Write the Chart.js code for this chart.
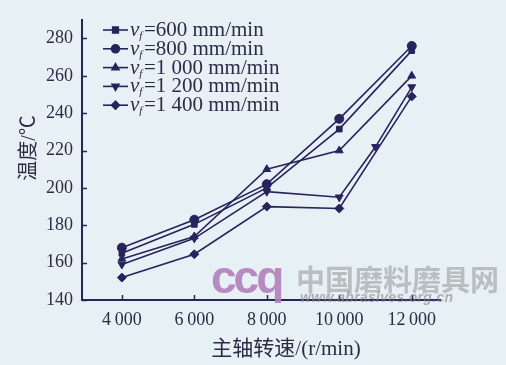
<!DOCTYPE html>
<html>
<head>
<meta charset="utf-8">
<script src="https://cdn.jsdelivr.net/npm/chart.js@4/dist/chart.umd.min.js"></script>
<style>
body { margin: 0; background: #e7f0f5; }
#wrap { position: relative; width: 506px; height: 365px; overflow: hidden; }
#chart { position: absolute; left: 0; top: 0; }
.logo { position: absolute; left: 211px; top: 250px; font: bold 46px "Liberation Sans", sans-serif; color: rgba(176, 128, 186, 0.9); letter-spacing: -3px; }
.wm1 { position: absolute; left: 296px; top: 257px; font: bold 29px "Noto Sans CJK SC", sans-serif; color: rgba(140, 140, 140, 0.5); letter-spacing: 0; }
.wm2 { position: absolute; left: 300px; top: 289px; font: italic bold 14px "Liberation Sans", sans-serif; color: rgba(130, 130, 130, 0.6); letter-spacing: 0.3px; }
</style>
</head>
<body>
<div id="wrap">
  <canvas id="chart" width="506" height="365"></canvas>
  <div class="logo">ccq</div>
  <div class="wm1">中国磨料磨具网</div>
  <div class="wm2">www.abrasives.org.cn</div>
</div>
<script>
// Données
const speeds = [4000, 6000, 8000, 10000, 12000];
const speeds1200 = [4000, 6000, 8000, 10000, 11000, 12000];
const temp600 = [165, 180.5, 200, 231.5, 273.5];
const temp800 = [168, 183, 202, 237, 276];
const temp1000 = [162, 174, 210, 220, 260];
const temp1200 = [159, 173, 198, 195, 222, 254];
const temp1400 = [152, 164.5, 190, 189, 249];
const feedLabels = ['600 mm/min', '800 mm/min', '1 000 mm/min', '1 200 mm/min', '1 400 mm/min'];
const xTicks = [4000, 6000, 8000, 10000, 12000];
const xTickLabels = ['4\u2009000', '6\u2009000', '8\u2009000', '10\u2009000', '12\u2009000'];
const yTicks = [140, 160, 180, 200, 220, 240, 260, 280];
const xTitle = '主轴转速/(r/min)';
const yTitle = '温度/℃';

const ink = '#25255c';
const textInk = '#2b2b45';
const serif = '"Liberation Serif", "Noto Sans CJK SC", serif';

const pts = (xs, ys) => xs.map((x, i) => ({ x, y: ys[i] }));

function series(label, xs, ys, style, rotation) {
    return {
        label,
        data: pts(xs, ys),
        borderColor: ink,
        backgroundColor: ink,
        borderWidth: 1.6,
        pointStyle: style,
        rotation: rotation || 0,
        pointRadius: style === 'rect' ? 4 : 4.5,
        pointBorderWidth: 1,
        tension: 0
    };
}

// Graduations vers l'intérieur + titres + légende
const decor = {
    id: 'decor',
    afterDraw(chart) {
        const { ctx, chartArea: a, scales: { x, y } } = chart;
        ctx.save();
        ctx.strokeStyle = ink;
        ctx.lineWidth = 1.5;
        ctx.beginPath();
        yTicks.forEach(v => {
            const py = Math.round(y.getPixelForValue(v)) + 0.5;
            ctx.moveTo(a.left, py); ctx.lineTo(a.left + 5, py);
        });
        xTicks.forEach(v => {
            const px = Math.round(x.getPixelForValue(v)) + 0.5;
            ctx.moveTo(px, a.bottom); ctx.lineTo(px, a.bottom - 5);
        });
        ctx.stroke();

        // titres
        ctx.fillStyle = textInk;
        ctx.font = '21px ' + serif;
        ctx.textAlign = 'center';
        ctx.textBaseline = 'middle';
        ctx.fillText(xTitle, 286, 349);
        ctx.save();
        ctx.translate(30, 148);
        ctx.rotate(-Math.PI / 2);
        ctx.font = '20px ' + serif;
        ctx.fillText(yTitle, 0, 0);
        ctx.restore();

        // légende
        const lx = 103, ly = 30, step = 18.8;
        chart.data.datasets.forEach((ds, i) => {
            const cy = ly + i * step;
            ctx.strokeStyle = ink;
            ctx.fillStyle = ink;
            ctx.lineWidth = 1.6;
            ctx.beginPath();
            ctx.moveTo(lx, cy); ctx.lineTo(lx + 25, cy);
            ctx.stroke();
            Chart.helpers.drawPoint(ctx, {
                pointStyle: ds.pointStyle, rotation: ds.rotation, radius: 4, borderWidth: 1
            }, lx + 12.5, cy);
            ctx.textAlign = 'left';
            ctx.textBaseline = 'alphabetic';
            ctx.fillStyle = textInk;
            ctx.font = 'italic 21px ' + serif;
            ctx.fillText('v', lx + 27, cy + 6);
            let w = ctx.measureText('v').width;
            ctx.font = 'italic 11px ' + serif;
            ctx.fillText('f', lx + 27 + w, cy + 9);
            w += ctx.measureText('f').width + 1.5;
            ctx.font = '21px ' + serif;
            ctx.fillText('=' + ds.label, lx + 27 + w, cy + 6);
        });
        ctx.restore();
    }
};

new Chart(document.getElementById('chart'), {
    type: 'line',
    data: {
        datasets: [
            series(feedLabels[0], speeds, temp600, 'rect'),
            series(feedLabels[1], speeds, temp800, 'circle'),
            series(feedLabels[2], speeds, temp1000, 'triangle'),
            series(feedLabels[3], speeds1200, temp1200, 'triangle', 180),
            series(feedLabels[4], speeds, temp1400, 'rectRot')
        ]
    },
    options: {
        responsive: false,
        animation: false,
        layout: { padding: { left: 0, right: 66, top: 15, bottom: 0 } },
        plugins: { legend: { display: false }, tooltip: { enabled: false } },
        scales: {
            x: {
                type: 'linear',
                min: 2900,
                max: 12780,
                afterBuildTicks: s => { s.ticks = xTicks.map(v => ({ value: v })); },
                afterFit: s => { s.height = 65; },
                ticks: {
                    padding: 9,
                    color: textInk,
                    font: { family: serif, size: 18 },
                    maxRotation: 0,
                    callback: v => xTickLabels[xTicks.indexOf(v)]
                },
                grid: { drawOnChartArea: false, drawTicks: false },
                border: { color: ink, width: 2 }
            },
            y: {
                min: 140,
                max: 290,
                afterBuildTicks: s => { s.ticks = yTicks.map(v => ({ value: v })); },
                afterFit: s => { s.width = 82; },
                ticks: {
                    padding: 9,
                    color: textInk,
                    font: { family: serif, size: 18 }
                },
                grid: { drawOnChartArea: false, drawTicks: false },
                border: { color: ink, width: 2 }
            }
        }
    },
    plugins: [decor]
});
</script>
</body>
</html>
